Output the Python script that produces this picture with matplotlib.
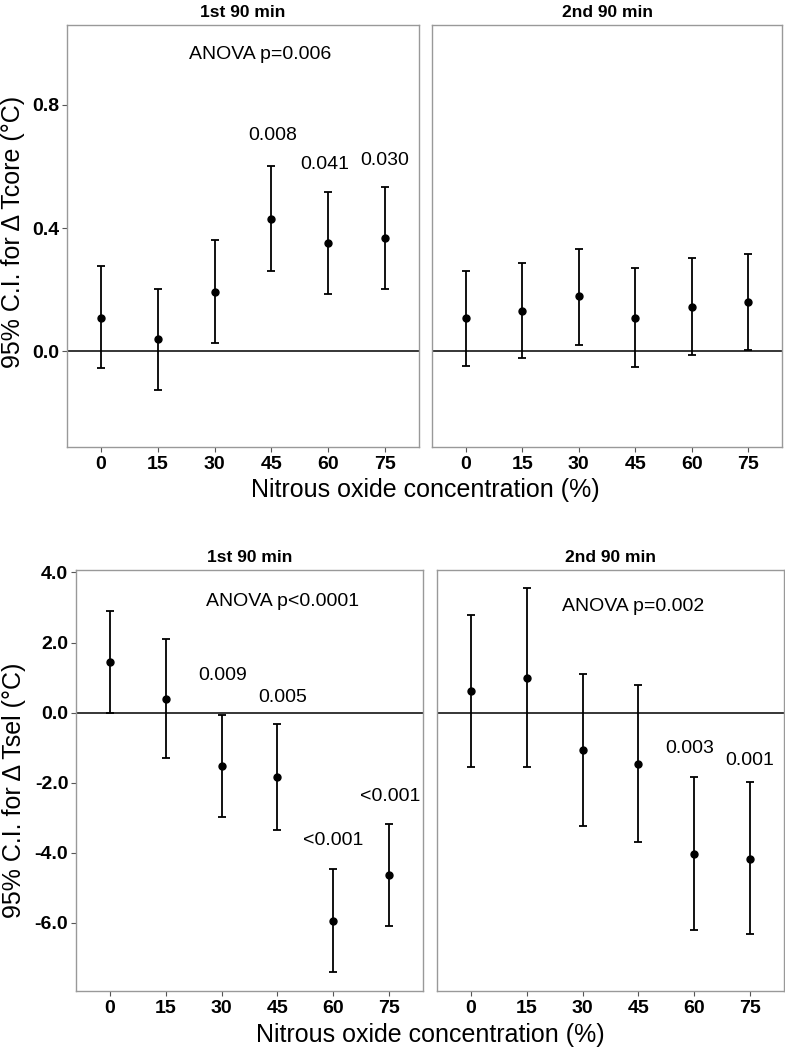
import numpy as np
import matplotlib.pyplot as plt

plt.rcParams['font.family'] = ['Liberation Sans', 'DejaVu Sans']

conc = ['0', '15', '30', '45', '60', '75']
panels = ['1st 90 min', '2nd 90 min']

# delta Tcore: mean, lower, upper
core1_mean = [0.106, 0.038, 0.193, 0.430, 0.351, 0.368]
core1_lo = [-0.055, -0.127, 0.027, 0.260, 0.186, 0.203]
core1_hi = [0.275, 0.203, 0.361, 0.603, 0.518, 0.534]
core2_mean = [0.106, 0.131, 0.178, 0.109, 0.144, 0.161]
core2_lo = [-0.050, -0.024, 0.021, -0.051, -0.012, 0.003]
core2_hi = [0.261, 0.286, 0.333, 0.269, 0.301, 0.317]

# delta Tsel: mean, lower, upper
sel1_mean = [1.43, 0.40, -1.53, -1.85, -5.94, -4.65]
sel1_lo = [-0.02, -1.31, -2.98, -3.35, -7.42, -6.10]
sel1_hi = [2.90, 2.11, -0.06, -0.34, -4.48, -3.18]
sel2_mean = [0.61, 1.00, -1.07, -1.46, -4.05, -4.17]
sel2_lo = [-1.56, -1.56, -3.24, -3.70, -6.22, -6.32]
sel2_hi = [2.79, 3.55, 1.10, 0.79, -1.85, -1.99]

# annotations: (x index, y, text)
core1_notes = [(2.8, 0.963, 'ANOVA p=0.006'), (3.03, 0.70, '0.008'),
               (3.94, 0.605, '0.041'), (5.0, 0.62, '0.030')]
core2_notes = []
sel1_notes = [(3.09, 3.16, 'ANOVA p<0.0001'), (2.02, 1.07, '0.009'),
              (3.09, 0.43, '0.005'), (4.0, -3.65, '<0.001'), (5.02, -2.41, '<0.001')]
sel2_notes = [(2.9, 3.02, 'ANOVA p=0.002'), (3.91, -1.03, '0.003'), (4.98, -1.36, '0.001')]

W, H = 785, 1048
fig = plt.figure(figsize=(W / 100, H / 100), dpi=100)


def rect(l, r, t, b):
    return [l / W, 1 - b / H, (r - l) / W, (b - t) / H]


def draw(ax, mean, lo, hi, notes, title, ylim, yticks, show_y):
    x = np.arange(len(conc))
    mean = np.array(mean)
    yerr = [mean - np.array(lo), np.array(hi) - mean]
    ax.axhline(0, color='black', lw=1.1, zorder=1)
    ax.errorbar(x, mean, yerr=yerr, fmt='o', color='black', ms=5,
                elinewidth=1.3, capsize=3, capthick=1.3, zorder=3)
    for nx, ny, txt in notes:
        ax.text(nx, ny, txt, ha='center', va='center', fontsize=14)
    ax.set_xlim(-0.6, 5.6)
    ax.set_ylim(*ylim)
    ax.set_xticks(x)
    ax.set_xticklabels(conc, fontweight='bold', fontsize=14)
    ax.set_yticks(yticks)
    if show_y:
        ax.set_yticklabels([f'{v:.1f}' for v in yticks], fontweight='bold', fontsize=14)
        ax.tick_params(axis='y', length=3.5, color='#555555', pad=2)
    else:
        ax.tick_params(axis='y', left=False, labelleft=False)
    ax.tick_params(axis='x', length=3.5, color='#555555', pad=3)
    for s in ax.spines.values():
        s.set_color('#999999')
        s.set_linewidth(1.0)
    ax.set_title(title, fontweight='bold', fontsize=12.5, pad=6)


ax1 = fig.add_axes(rect(67, 419, 25, 447))
ax2 = fig.add_axes(rect(432, 782, 25, 447))
ax3 = fig.add_axes(rect(76, 423, 570, 991))
ax4 = fig.add_axes(rect(437, 784, 570, 991))

core_ylim = (-0.312, 1.06)
sel_ylim = (-7.95, 4.07)
draw(ax1, core1_mean, core1_lo, core1_hi, core1_notes, panels[0], core_ylim, [0.0, 0.4, 0.8], True)
draw(ax2, core2_mean, core2_lo, core2_hi, core2_notes, panels[1], core_ylim, [0.0, 0.4, 0.8], False)
draw(ax3, sel1_mean, sel1_lo, sel1_hi, sel1_notes, panels[0], sel_ylim, [-6.0, -4.0, -2.0, 0.0, 2.0, 4.0], True)
draw(ax4, sel2_mean, sel2_lo, sel2_hi, sel2_notes, panels[1], sel_ylim, [-6.0, -4.0, -2.0, 0.0, 2.0, 4.0], False)

fig.text(425 / W, 1 - 490 / H, 'Nitrous oxide concentration (%)', ha='center', va='center', fontsize=18)
fig.text(430 / W, 1 - 1035 / H, 'Nitrous oxide concentration (%)', ha='center', va='center', fontsize=18)
fig.text(13 / W, 1 - 232 / H, '95% C.I. for Δ Tcore (°C)', ha='center', va='center', fontsize=18, rotation=90)
fig.text(14 / W, 1 - 790 / H, '95% C.I. for Δ Tsel (°C)', ha='center', va='center', fontsize=18, rotation=90)

fig.savefig('out.png', dpi=100)
